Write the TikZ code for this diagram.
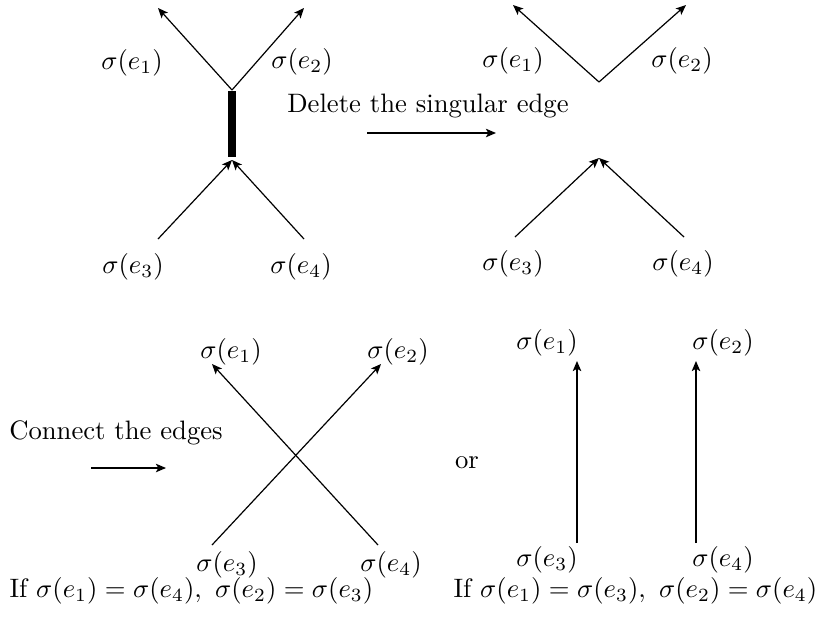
\documentclass[tikz,border=0pt]{standalone}
\usetikzlibrary{arrows.meta}
\begin{document}
\begin{tikzpicture}[x=0.375pt,y=-0.375pt,
  lbl/.style={inner sep=0pt,anchor=center},
  txt/.style={inner sep=0pt},
  arr/.style={line width=0.45pt,-{Stealth[length=3.8pt,width=3.2pt,inset=0.9pt]}},
  bar/.style={line width=2.9pt}]
\useasboundingbox (0,0) rectangle (817,619);
% ---- top-left: singular edge
\coordinate (v1) at (232,90);
\coordinate (v2) at (232,160);
\coordinate (t1) at (158,8);
\coordinate (t2) at (304,8);
\coordinate (s3) at (158,239);
\coordinate (s4) at (304,239);
\draw[bar] (232,91) coordinate (b1) -- (232,157) coordinate (b2);
\draw[arr] (v1) -- (t1);
\draw[arr] (v1) -- (t2);
\draw[arr] (s3) -- (v2);
\draw[arr] (s4) -- (v2);
\node[lbl] (a1) at (132,63) {$\sigma(e_1)$};
\node[lbl] (a2) at (302,62) {$\sigma(e_2)$};
\node[lbl] (a3) at (133,267) {$\sigma(e_3)$};
\node[lbl] (a4) at (301,267) {$\sigma(e_4)$};
% ---- delete arrow
\node[txt] (del) at (428,106) {Delete the singular edge};
\coordinate (d1) at (367,133);
\coordinate (d2) at (496,133);
\draw[arr] (d1) -- (d2);
% ---- top-right
\coordinate (w1) at (599,82);
\coordinate (w2) at (599,158);
\coordinate (u1) at (513,5);
\coordinate (u2) at (686,5);
\coordinate (r3) at (515,237);
\coordinate (r4) at (684,237);
\draw[arr] (w1) -- (u1);
\draw[arr] (w1) -- (u2);
\draw[arr] (r3) -- (w2);
\draw[arr] (r4) -- (w2);
\node[lbl] (c1) at (513,61) {$\sigma(e_1)$};
\node[lbl] (c2) at (682,61) {$\sigma(e_2)$};
\node[lbl] (c3) at (513,264) {$\sigma(e_3)$};
\node[lbl] (c4) at (683,264) {$\sigma(e_4)$};
% ---- bottom-left: connect
\node[txt] (con) at (116,433) {Connect the edges};
\coordinate (k1) at (91,468);
\coordinate (k2) at (166,468);
\draw[arr] (k1) -- (k2);
\coordinate (x3) at (212,545);
\coordinate (x4) at (378,545);
\coordinate (y1) at (212,364);
\coordinate (y2) at (381,364);
\draw[arr] (x4) -- (y1);
\draw[arr] (x3) -- (y2);
\node[lbl] (f1) at (231,352) {$\sigma(e_1)$};
\node[lbl] (f2) at (398,352) {$\sigma(e_2)$};
\node[lbl] (f3) at (227,565) {$\sigma(e_3)$};
\node[lbl] (f4) at (391,565) {$\sigma(e_4)$};
\node[txt,anchor=west] (cond1) at (9,591) {If $\sigma(e_1)=\sigma(e_4),\ \sigma(e_2)=\sigma(e_3)$};
% ---- bottom-right
\node[txt] (or) at (467,463) {or};
\coordinate (p3) at (577,543);
\coordinate (p4) at (696,543);
\coordinate (q1) at (577,361);
\coordinate (q2) at (696,361);
\draw[arr] (p3) -- (q1);
\draw[arr] (p4) -- (q2);
\node[lbl] (g1) at (547,343) {$\sigma(e_1)$};
\node[lbl] (g2) at (723,343) {$\sigma(e_2)$};
\node[lbl] (g3) at (547,560) {$\sigma(e_3)$};
\node[lbl] (g4) at (723,560) {$\sigma(e_4)$};
\node[txt,anchor=west] (cond2) at (453,591) {If $\sigma(e_1)=\sigma(e_3),\ \sigma(e_2)=\sigma(e_4)$};
\end{tikzpicture}
\end{document}
